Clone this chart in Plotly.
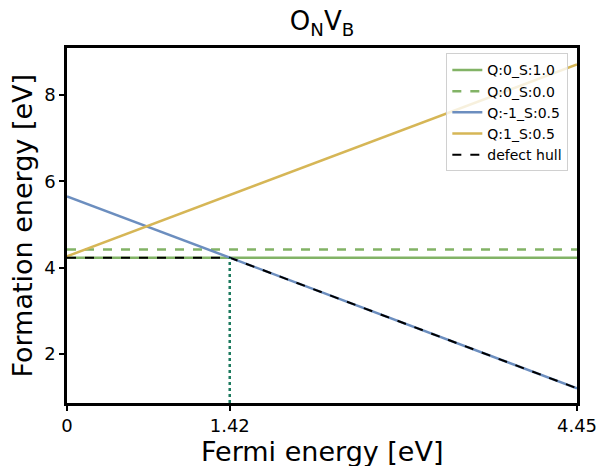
import plotly.graph_objects as go

x_range = [0.0, 4.45]
names = ["Q:0_S:1.0", "Q:0_S:0.0", "Q:-1_S:0.5", "Q:1_S:0.5"]
charges = [0, 0, -1, 1]
intercepts = [4.23, 4.42, 5.65, 4.26]
colors = ["#82b366", "#82b366", "#6c8ebf", "#d6b656"]
dashes = ["solid", "dash", "solid", "solid"]
hull_x = [0.0, 1.42, 4.45]
hull_y = [4.23, 4.23, 1.20]
transition_x = 1.42
transition_y = 4.23
x_ticks = [0, 1.42, 4.45]
x_tick_labels = ["0", "1.42", "4.45"]
y_ticks = [2, 4, 6, 8]
y_range = [0.86, 9.09]
x_title = "Fermi energy [eV]"
y_title = "Formation energy [eV]"
main_title = "O<sub>N</sub>V<sub>B</sub>"

fig = go.Figure()
for n, q, b, c, d in zip(names, charges, intercepts, colors, dashes):
    xs = x_range
    ys = [b + q * xv for xv in xs]
    fig.add_trace(go.Scatter(x=xs, y=ys, mode="lines", name=n,
                             line=dict(color=c, width=2.5, dash=d)))
fig.add_trace(go.Scatter(x=hull_x, y=hull_y, mode="lines", name="defect hull",
                         line=dict(color="black", width=2, dash="dash")))
fig.add_trace(go.Scatter(x=[transition_x, transition_x], y=[y_range[0], transition_y],
                         mode="lines", showlegend=False,
                         line=dict(color="#1c7a5e", width=2.5, dash="dot")))

axis_common = dict(showgrid=False, zeroline=False, showline=True, linecolor="black",
                   linewidth=2.5, mirror=True, ticks="outside", ticklen=5, tickwidth=1.5,
                   tickcolor="black", tickfont=dict(size=18, color="black"), automargin=False)
fig.update_xaxes(range=x_range, tickvals=x_ticks, ticktext=x_tick_labels, **axis_common)
fig.update_yaxes(range=y_range, tickvals=y_ticks, **axis_common)

fig.add_annotation(text=x_title, xref="paper", yref="paper", x=0.5, y=-0.137,
                   xanchor="center", yanchor="middle", showarrow=False,
                   font=dict(size=27, color="black"))
fig.add_annotation(text=y_title, xref="paper", yref="paper", x=-0.088, y=0.5,
                   xanchor="center", yanchor="middle", showarrow=False, textangle=-90,
                   font=dict(size=27, color="black"))

fig.update_layout(
    width=598, height=466,
    margin=dict(l=67, r=21, t=48, b=63),
    plot_bgcolor="white", paper_bgcolor="white",
    font=dict(family="DejaVu Sans", color="black"),
    title=dict(text=main_title, x=(67 + 577) / 2 / 598, xanchor="center",
               y=1 - 21 / 466, yanchor="middle", font=dict(size=26, color="black")),
    legend=dict(x=0.983, y=0.985, xanchor="right", yanchor="top", bgcolor="rgba(255,255,255,0.8)",
                bordercolor="#d0d0d0", borderwidth=1, font=dict(size=14), tracegroupgap=0,
                itemwidth=30),
)
fig.write_html("out.html", config={"displayModeBar": False},
               post_script="document.body.style.margin='0';document.body.style.overflow='hidden';")
